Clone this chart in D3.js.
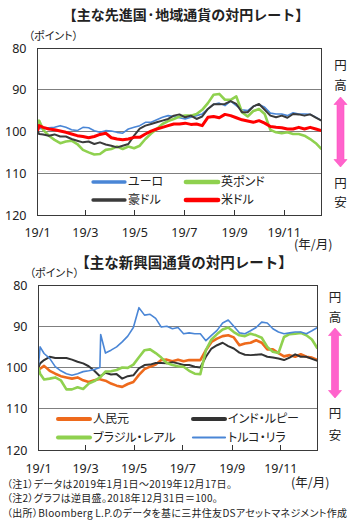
<!DOCTYPE html>
<html><head><meta charset="utf-8">
<script src="https://cdn.jsdelivr.net/npm/d3@7"></script>
<style>
body{margin:0;background:#fff}
svg{display:block}
text{font-family:"Noto Sans CJK JP","Noto Sans",sans-serif;font-feature-settings:"palt";fill:#222}
text.title{font-feature-settings:normal}
</style>
</head><body>
<svg id="c" width="359" height="523"></svg>
<script>
// ---------- data ----------
const topDays = [0,2,7,14,21,28,35,42,49,56,63,70,77,84,91,98,105,112,119,126,133,140,147,154,161,168,175,182,189,196,203,210,217,224,231,238,245,252,259,266,273,280,287,294,301,308,315,322,329,336,343,350];
const euro = [99.8,99.2,99.4,99.1,99.0,98.6,99.0,99.6,99.8,99.0,99.1,99.8,100.2,99.8,99.9,100.2,100.4,99.4,99.0,98.6,97.8,97.8,97.2,96.6,96.2,96.4,96.7,97.0,96.6,96.2,95.8,94.6,93.5,93.2,93.8,92.7,93.8,94.8,95.0,94.0,93.5,94.2,95.6,95.8,95.8,96.2,95.5,95.8,95.8,95.9,96.6,97.4];
const gbp  = [99.0,97.4,99.6,101.0,102.0,102.8,102.4,102.2,103.0,104.4,105.0,105.5,105.4,104.4,104.2,103.6,104.2,103.6,104.0,103.4,101.8,100.5,99.4,98.2,97.5,97.0,96.4,96.2,96.2,95.8,94.8,93.2,91.2,91.0,92.4,92.4,91.6,95.4,96.4,95.1,94.6,95.8,99.6,100.2,100.4,100.2,100.6,100.6,101.0,101.8,102.8,104.2];
const aud  = [99.8,100.6,100.7,101.0,100.7,101.2,101.2,101.8,102.2,102.6,102.4,103.0,102.6,103.1,103.4,103.8,103.4,103.0,101.0,99.3,98.6,98.2,97.8,97.4,97.0,96.2,95.9,96.6,96.2,97.0,96.4,94.6,93.5,93.5,93.4,92.7,93.4,95.4,95.4,94.0,93.4,94.8,96.2,96.6,96.2,96.7,95.8,95.9,96.2,95.9,96.7,97.4];
const usd  = [99.8,98.6,99.0,99.4,99.6,99.9,100.2,100.6,101.0,101.2,101.5,101.2,100.7,100.4,101.5,101.8,102.0,101.8,101.4,101.4,100.6,99.9,99.4,99.0,98.6,98.2,98.2,98.0,98.3,98.2,98.6,96.6,96.4,96.7,95.9,96.2,96.7,97.2,97.5,97.8,97.4,98.0,98.8,99.0,99.1,99.4,99.4,99.0,99.4,99.0,99.4,99.8];

const emDays = [0,2,7,14,21,28,35,42,49,56,63,70,77,78,84,91,98,105,112,119,126,133,140,147,154,161,168,175,182,189,196,203,210,217,224,231,238,245,252,259,266,273,280,287,294,301,308,315,322,329,336,343,350];
const cny = [100.0,100.3,99.6,100.8,101.5,102.1,102.4,102.7,102.4,103.1,103.5,103.1,102.8,102.9,103.2,103.9,104.4,104.7,104.0,103.5,101.8,100.4,99.8,99.3,98.2,98.1,98.5,98.1,98.5,98.2,98.2,98.2,95.8,93.8,93.0,92.4,92.2,92.7,94.6,94.2,94.0,93.4,94.0,95.6,95.6,96.5,97.3,97.0,97.4,96.8,97.4,97.6,98.2];
const inr = [100.0,99.0,98.2,97.4,97.7,97.7,97.7,98.1,98.6,99.0,99.7,100.8,102.1,102.0,101.3,101.7,101.6,102.7,102.1,101.9,100.2,99.4,99.3,98.9,98.9,99.0,98.7,99.0,99.4,99.4,99.8,100.0,97.4,95.4,94.6,94.0,94.8,95.4,96.4,96.9,97.0,96.9,96.8,97.4,97.6,97.8,98.2,97.6,96.8,97.4,97.4,97.9,98.4];
const brl = [100.0,101.5,102.9,102.7,102.4,103.1,105.3,105.3,104.8,105.2,103.9,103.3,102.4,102.3,101.0,100.9,100.6,100.0,100.1,99.3,97.5,95.8,95.6,96.5,97.6,98.9,99.4,99.7,99.8,100.8,101.5,101.6,95.8,93.2,91.9,90.8,90.3,91.4,92.2,92.4,91.8,92.2,92.8,95.0,96.2,96.5,92.6,91.9,91.8,91.6,92.2,93.2,95.4];
const tryL = [99.5,95.0,96.6,97.8,99.8,100.8,101.5,101.9,101.5,101.0,100.8,100.5,100.0,92.0,96.5,95.8,95.0,93.8,92.4,90.3,85.5,87.3,87.1,88.1,90.2,90.0,90.6,90.3,91.8,91.6,91.8,91.8,93.5,92.2,91.0,89.2,88.5,90.0,91.6,91.8,91.1,90.3,89.0,89.2,90.6,91.4,91.8,91.6,91.4,91.4,91.8,91.1,90.3];

const yTicks = [80, 90, 100, 110, 120];
const xTickMonths = [1, 3, 5, 7, 9, 11];
const topNames = ["ユーロ","英ポンド","豪ドル","米ドル"];
const emNames = ["人民元","インド・ルピー","ブラジル・レアル","トルコ・リラ"];
const notes = ["（注1）データは2019年1月1日～2019年12月17日。",
               "（注2）グラフは逆目盛。2018年12月31日＝100。",
               "（出所）Bloomberg L.P.のデータを基に三井住友DSアセットマネジメント作成"];

// ---------- drawing ----------
const svg = d3.select("#c");
const start = new Date(2019,0,1);
const toDate = d => d3.timeDay.offset(start, d);

function panel(cfg){
  const x = d3.scaleTime().domain([start, toDate(350)]).range([cfg.l, cfg.r]);
  const y = d3.scaleLinear().domain([80,120]).range([cfg.t, cfg.b]);
  const g = svg.append("g");
  g.append("text").attr("class","title").attr("x", cfg.titleX).attr("y", cfg.titleY).attr("text-anchor","middle")
    .attr("font-size", cfg.titleSize).attr("font-weight","bold").text(cfg.title);
  g.append("text").attr("x", cfg.l - 9).attr("y", cfg.t - 8).attr("font-size", 11).text("（ポイント）");
  g.selectAll(".grid").data(yTicks.slice(1,-1)).join("line")
    .attr("x1", cfg.l).attr("x2", cfg.r).attr("y1", d=>y(d)).attr("y2", d=>y(d))
    .attr("stroke","#7f7f7f").attr("stroke-width",1).attr("shape-rendering","crispEdges");
  g.selectAll(".yl").data(yTicks).join("text")
    .attr("x", cfg.l - 11).attr("y", d=>y(d)).attr("dy","0.36em").attr("text-anchor","end")
    .attr("font-size", 12.5).style("font-family","'Noto Sans',sans-serif").text(d=>d);
  const tickDates = xTickMonths.map(m => new Date(2019, m-1, 1));
  g.selectAll(".xt").data(tickDates).join("line")
    .attr("x1", d=>x(d)).attr("x2", d=>x(d)).attr("y1", cfg.b).attr("y2", cfg.b-5)
    .attr("stroke","#333").attr("shape-rendering","crispEdges");
  g.selectAll(".xl").data(tickDates).join("text")
    .attr("x", d=>x(d)).attr("y", cfg.xLabY).attr("text-anchor","middle")
    .attr("font-size", 12.5).style("font-family","'Noto Sans',sans-serif").text(d3.timeFormat("%y/%-m"));
  g.append("text").attr("x", cfg.unitX).attr("y", cfg.unitY).attr("font-size", 12.5)
    .style("font-feature-settings","normal").text("(年/月)");
  const clip = "clip" + cfg.id;
  svg.append("clipPath").attr("id", clip).append("rect")
    .attr("x", cfg.l).attr("y", cfg.t).attr("width", cfg.r-cfg.l).attr("height", cfg.b-cfg.t);
  const line = d3.line().x((d,i)=>x(toDate(cfg.days[i]))).y(d=>y(d)).curve(d3.curveLinear);
  const lg = g.append("g").attr("clip-path", `url(#${clip})`);
  cfg.drawOrder.forEach(i => {
    const s = cfg.series[i];
    lg.append("path").datum(s.values).attr("d", line).attr("fill","none")
      .attr("stroke", s.color).attr("stroke-width", s.w).attr("stroke-linejoin","round");
  });
  g.append("rect").attr("x", cfg.l).attr("y", cfg.t).attr("width", cfg.r-cfg.l).attr("height", cfg.b-cfg.t)
    .attr("fill","none").attr("stroke","#3a3a3a").attr("stroke-width",1).attr("shape-rendering","crispEdges");
  cfg.series.forEach((s,i) => {
    const col = i % 2, row = Math.floor(i/2);
    const lx = cfg.legX[col], ly = cfg.legY[row];
    g.append("line").attr("x1", lx).attr("x2", lx + cfg.legLen).attr("y1", ly).attr("y2", ly)
      .attr("stroke", s.color).attr("stroke-width", s.lw).attr("stroke-linecap","round");
    g.append("text").attr("x", lx + cfg.legLen + 3).attr("y", ly).attr("dy","0.36em")
      .attr("font-size", 12).text(s.name);
  });
  const ax = cfg.arrowX;
  [[cfg.yenHigh[0],"円"],[cfg.yenHigh[1],"高"],[cfg.yenLow[0],"円"],[cfg.yenLow[1],"安"]].forEach(([yy,t]) => {
    g.append("text").attr("x", ax).attr("y", yy).attr("dy","0.36em").attr("text-anchor","middle")
      .attr("font-size", 12.5).text(t);
  });
  const a0 = cfg.arrowTop, a1 = cfg.arrowBot, hw = 6.5, hh = 7.5, sw = 3.5;
  const p = d3.path();
  p.moveTo(ax, a0); p.lineTo(ax+hw, a0+hh); p.lineTo(ax+sw, a0+hh); p.lineTo(ax+sw, a1-hh);
  p.lineTo(ax+hw, a1-hh); p.lineTo(ax, a1); p.lineTo(ax-hw, a1-hh); p.lineTo(ax-sw, a1-hh);
  p.lineTo(ax-sw, a0+hh); p.lineTo(ax-hw, a0+hh); p.closePath();
  g.append("path").attr("d", p.toString()).attr("fill","#ff63cc").attr("stroke","#ff4fc0").attr("stroke-width",0.6);
}

panel({
  id: "a", l: 37.5, r: 321.5, t: 48, b: 215, days: topDays,
  title: "【主な先進国·地域通貨の対円レート】", titleX: 186, titleY: 20, titleSize: 14,
  xLabY: 236.5, unitX: 294, unitY: 249,
  series: [
    {name: topNames[0], values: euro, color: "#4a86d6", w: 1.6, lw: 3.3},
    {name: topNames[1], values: gbp,  color: "#8fd14f", w: 2.6, lw: 4.7},
    {name: topNames[2], values: aud,  color: "#3b3b3b", w: 2.0, lw: 3.3},
    {name: topNames[3], values: usd,  color: "#ff0000", w: 3.0, lw: 4.7}
  ],
  drawOrder: [0,1,2,3],
  legX: [93, 186], legY: [182, 200], legLen: 32,
  arrowX: 340.5, yenHigh: [65, 85], yenLow: [183, 202], arrowTop: 97, arrowBot: 167
});

panel({
  id: "b", l: 38.5, r: 317.5, t: 285, b: 450, days: emDays,
  title: "【主な新興国通貨の対円レート】", titleX: 184, titleY: 268, titleSize: 14.5,
  xLabY: 472.5, unitX: 291, unitY: 487,
  series: [
    {name: emNames[0], values: cny,  color: "#ee6a1c", w: 2.6, lw: 4},
    {name: emNames[1], values: inr,  color: "#333333", w: 2.0, lw: 4},
    {name: emNames[2], values: brl,  color: "#8fd14f", w: 2.6, lw: 4},
    {name: emNames[3], values: tryL, color: "#4a86d6", w: 1.6, lw: 2.2}
  ],
  drawOrder: [0,1,2,3],
  legX: [58, 193], legY: [419, 437.5], legLen: 32,
  arrowX: 335, yenHigh: [297, 317], yenLow: [413, 435], arrowTop: 328, arrowBot: 398
});

svg.selectAll(".note").data(notes).join("text")
  .attr("x", 7).attr("y", (d,i)=>487.5 + i*14.5).attr("font-size", 10)
  .attr("letter-spacing", 0.3).text(d=>d);
</script>
</body></html>
